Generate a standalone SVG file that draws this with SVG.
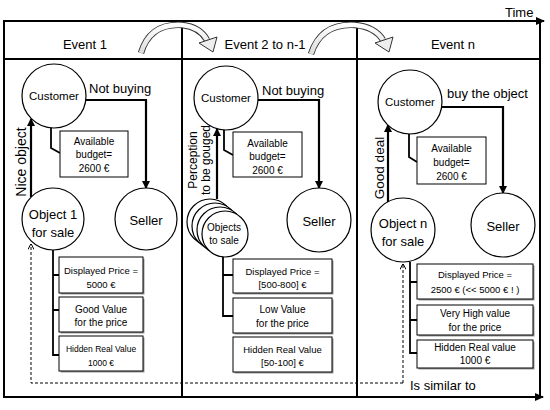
<svg xmlns="http://www.w3.org/2000/svg" width="550" height="410" viewBox="0 0 550 410">
<defs>
<marker id="ah" markerWidth="8" markerHeight="8" refX="7" refY="4" orient="auto" markerUnits="userSpaceOnUse"><path d="M0,0 L8,4 L0,8 Z" fill="#000"/></marker>
<marker id="ahd" markerWidth="6" markerHeight="6" refX="5.5" refY="3" orient="auto" markerUnits="userSpaceOnUse"><path d="M0,0 L6,3 L0,6" fill="none" stroke="#000" stroke-width="1"/></marker>
<marker id="ahf" markerWidth="9" markerHeight="8" refX="8" refY="4" orient="auto" markerUnits="userSpaceOnUse"><path d="M0,0 L9,4 L0,8 Z" fill="#000"/></marker>
<linearGradient id="gg" x1="0" y1="0" x2="0" y2="1"><stop offset="0" stop-color="#ffffff"/><stop offset="1" stop-color="#dcdcdc"/></linearGradient>
</defs>
<style>
text{font-family:"Liberation Sans",Arial,sans-serif;fill:#000}
.c{fill:#fff;stroke:#000;stroke-width:1.2}
.b{fill:#fff;stroke:#000;stroke-width:1}
.sh{fill:#9a9a9a}
.ln{fill:none;stroke:#000;stroke-width:2.2}
.br{fill:none;stroke:#000;stroke-width:1.8}
.dash{fill:none;stroke:#000;stroke-width:1;stroke-dasharray:3,2}
.fr{fill:none;stroke:#000;stroke-width:2}
.m{text-anchor:middle}
.ao{fill:none;stroke:#333;stroke-width:6.4}
.ai{fill:none;stroke:url(#gg);stroke-width:4.6}
.ahd{fill:#eee;stroke:#333;stroke-width:1}
</style>

<g id="frame">
<path class="fr" d="M4,21 V397 M540,21 V397 M4,59 H540 M182,21 V397 M357,21 V397"/>
<path class="fr" d="M3,21 H544" marker-end="url(#ahf)"/>
<path class="fr" d="M3,397 H543" marker-end="url(#ahf)"/>
<text x="505" y="17" font-size="13">Time</text>
<text x="85" y="49" font-size="13" class="m">Event 1</text>
<text x="265" y="49" font-size="13" class="m">Event 2 to n-1</text>
<text x="453" y="49" font-size="13" class="m">Event n</text>
</g>

<g id="time-arrows">
<path class="ao" d="M141,53 Q150,23 182,25 Q200,27 207,40"/>
<path class="ai" d="M141,53 Q150,23 182,25 Q200,27 207,40"/>
<polygon class="ahd" points="199,43 217,37 213,52"/>
<path class="ao" d="M311,54 Q321,23 355,25 Q375,27 383,40"/>
<path class="ai" d="M311,54 Q321,23 355,25 Q375,27 383,40"/>
<polygon class="ahd" points="375,43 393,37 389,52"/>
</g>

<g id="connectors">
<path class="ln" d="M86,100 H146 V188" marker-end="url(#ah)"/>
<path class="ln" d="M31,197 V119" marker-end="url(#ah)"/>
<path class="br" d="M51,128 V148 L60,153"/>
<path class="br" d="M53,250 V355 H59 M53,275 H59 M53,310 H59"/>
<path class="ln" d="M258,100 H319 V188" marker-end="url(#ah)"/>
<path class="ln" d="M217,199 V129" marker-end="url(#ah)"/>
<path class="br" d="M224,130 V150 L233,155"/>
<path class="br" d="M223,257 V316 H233 M223,275 H233"/>
<path class="ln" d="M442,107 H503 V193" marker-end="url(#ah)"/>
<path class="ln" d="M388,202 V125" marker-end="url(#ah)"/>
<path class="br" d="M409,134 V157 L417,162"/>
<path class="br" d="M410,262 V353 H417 M410,282 H417 M410,320 H417"/>
<path class="dash" d="M403,383 V264" marker-end="url(#ahd)"/>
<path class="dash" d="M403,383 H31 V244" marker-end="url(#ahd)"/>
<text x="89" y="93" font-size="13">Not buying</text>
<text x="262" y="95" font-size="13">Not buying</text>
<text x="447" y="98" font-size="13">buy the object</text>
<text transform="translate(26,162) rotate(-90)" font-size="14" class="m">Nice object</text>
<text transform="translate(197,160) rotate(-90)" font-size="12" class="m">Perception</text>
<text transform="translate(210,160) rotate(-90)" font-size="12" class="m">to be gouged</text>
<text transform="translate(384,168) rotate(-90)" font-size="13.5" class="m">Good deal</text>
<text x="410" y="390" font-size="13">Is similar to</text>
</g>

<g id="p1-customer"><circle class="c" cx="54" cy="96" r="32"/><text x="54" y="100" font-size="11.5" class="m">Customer</text></g>
<g id="p1-budget"><rect class="b" x="60" y="131" width="68" height="46"/><text x="94" y="145" font-size="10" class="m">Available</text><text x="94" y="158" font-size="10" class="m">budget=</text><text x="94" y="172" font-size="10" class="m">2600 €</text></g>
<g id="p1-object"><circle class="c" cx="53" cy="219" r="31"/><text x="53" y="219" font-size="13" class="m">Object 1</text><text x="53" y="237" font-size="13" class="m">for sale</text></g>
<g id="p1-seller"><circle class="c" cx="146" cy="219" r="31"/><text x="146" y="225" font-size="13" class="m">Seller</text></g>
<g id="p1-price"><rect class="sh" x="60.5" y="258.5" width="84" height="36"/><rect class="b" x="59" y="257" width="84" height="36"/><text x="101" y="274" font-size="9.5" class="m">Displayed Price =</text><text x="101" y="288" font-size="9.5" class="m">5000 €</text></g>
<g id="p1-value"><rect class="sh" x="60.5" y="298.5" width="84" height="35"/><rect class="b" x="59" y="297" width="84" height="35"/><text x="101" y="313" font-size="10" class="m">Good Value</text><text x="101" y="326" font-size="10" class="m">for the price</text></g>
<g id="p1-real"><rect class="sh" x="60.5" y="337.5" width="84" height="35"/><rect class="b" x="59" y="336" width="84" height="35"/><text x="101" y="352" font-size="8.5" class="m">Hidden Real Value</text><text x="101" y="366" font-size="8.5" class="m">1000 €</text></g>

<g id="p2-customer"><circle class="c" cx="226" cy="98" r="32"/><text x="226" y="102" font-size="11.5" class="m">Customer</text></g>
<g id="p2-budget"><rect class="b" x="233" y="132" width="69" height="45"/><text x="267.5" y="147" font-size="10" class="m">Available</text><text x="267.5" y="160" font-size="10" class="m">budget=</text><text x="267.5" y="174" font-size="10" class="m">2600 €</text></g>
<g id="p2-objects"><circle class="c" cx="210" cy="222" r="23"/><circle class="c" cx="215" cy="226" r="23"/><circle class="c" cx="220" cy="230" r="23"/><circle class="c" cx="225" cy="234" r="23"/><text x="224" y="231" font-size="10" class="m">Objects</text><text x="224" y="244" font-size="10" class="m">to sale</text></g>
<g id="p2-seller"><circle class="c" cx="319" cy="220" r="32"/><text x="319" y="226" font-size="13" class="m">Seller</text></g>
<g id="p2-price"><rect class="sh" x="234.5" y="260.5" width="99" height="34"/><rect class="b" x="233" y="259" width="99" height="34"/><text x="282.5" y="275" font-size="9.5" class="m">Displayed Price =</text><text x="282.5" y="288" font-size="9.5" class="m">[500-800] €</text></g>
<g id="p2-value"><rect class="sh" x="234.5" y="299.5" width="99" height="35"/><rect class="b" x="233" y="298" width="99" height="35"/><text x="282.5" y="313" font-size="10" class="m">Low Value</text><text x="282.5" y="327" font-size="10" class="m">for the price</text></g>
<g id="p2-real"><rect class="sh" x="234.5" y="338.5" width="99" height="35"/><rect class="b" x="233" y="337" width="99" height="35"/><text x="282.5" y="353" font-size="9.5" class="m">Hidden Real Value</text><text x="282.5" y="366" font-size="9.5" class="m">[50-100] €</text></g>

<g id="p3-customer"><circle class="c" cx="410" cy="102" r="32"/><text x="410" y="106" font-size="11.5" class="m">Customer</text></g>
<g id="p3-budget"><rect class="b" x="417" y="137" width="69" height="47"/><text x="451.5" y="152" font-size="10" class="m">Available</text><text x="451.5" y="166" font-size="10" class="m">budget=</text><text x="451.5" y="180" font-size="10" class="m">2600 €</text></g>
<g id="p3-object"><circle class="c" cx="403" cy="230" r="32"/><text x="403" y="228" font-size="13" class="m">Object n</text><text x="403" y="246" font-size="13" class="m">for sale</text></g>
<g id="p3-seller"><circle class="c" cx="503" cy="225" r="32"/><text x="503" y="231" font-size="13" class="m">Seller</text></g>
<g id="p3-price"><rect class="sh" x="418.5" y="265.5" width="116" height="35"/><rect class="b" x="417" y="264" width="116" height="35"/><text x="475" y="278" font-size="9.5" class="m">Displayed Price =</text><text x="475" y="293" font-size="9.5" class="m">2500 € (&lt;&lt; 5000 € ! )</text></g>
<g id="p3-value"><rect class="sh" x="418.5" y="306.5" width="116" height="30"/><rect class="b" x="417" y="305" width="116" height="30"/><text x="475" y="317" font-size="10" class="m">Very High value</text><text x="475" y="331" font-size="10" class="m">for the price</text></g>
<g id="p3-real"><rect class="sh" x="418.5" y="341.5" width="116" height="28"/><rect class="b" x="417" y="340" width="116" height="28"/><text x="475" y="351" font-size="10" class="m">Hidden Real value</text><text x="475" y="364" font-size="10" class="m">1000 €</text></g>
</svg>
